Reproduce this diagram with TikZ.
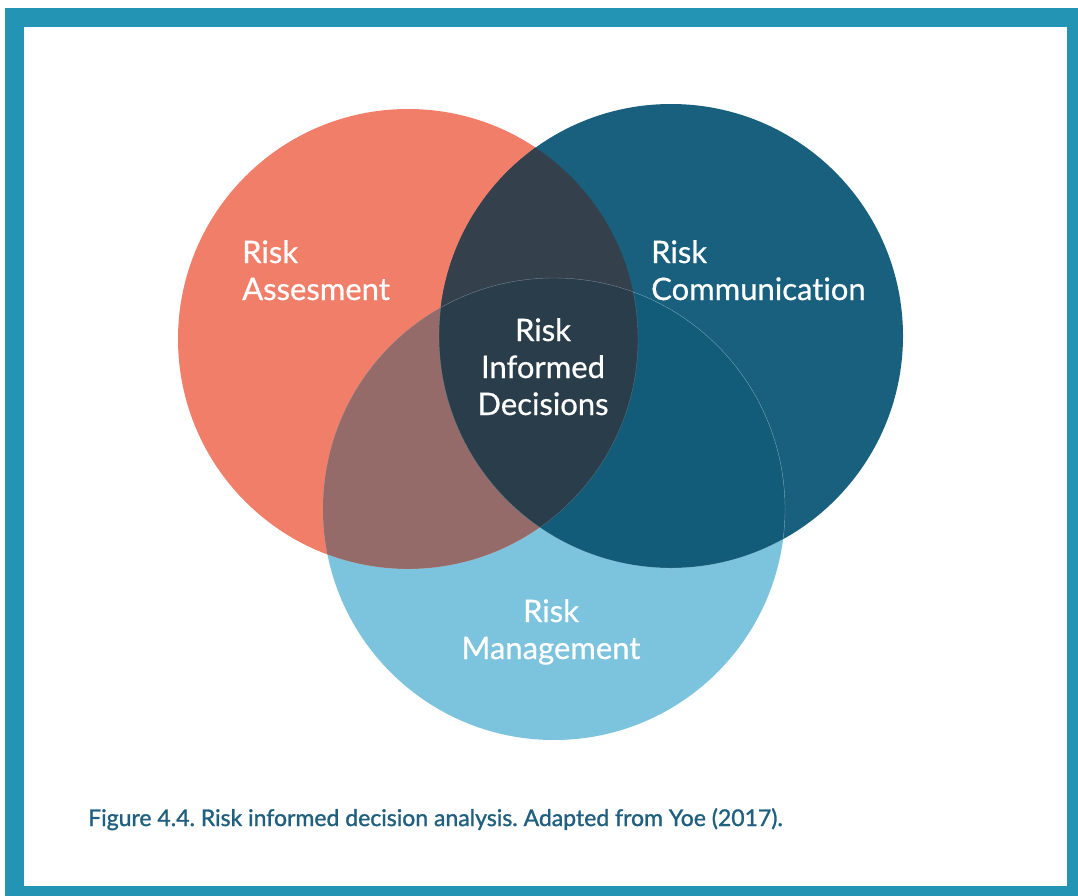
\documentclass[tikz,border=0pt]{standalone}
\usepackage{fontspec}
\setmainfont[Ligatures=NoCommon]{Lato}
\newfontfamily\capfont[Ligatures=NoCommon,FakeBold=1.2]{Lato}
\newfontfamily\lblfont[Ligatures=NoCommon,FakeBold=0.6]{Lato}
\definecolor{framec}{HTML}{2394B4}
\definecolor{orangec}{HTML}{F17E69}
\definecolor{darkc}{HTML}{18607E}
\definecolor{lightc}{HTML}{7CC3DD}
\definecolor{abc}{HTML}{35404D}
\definecolor{acc}{HTML}{956B69}
\definecolor{bcc}{HTML}{125C7A}
\definecolor{allc}{HTML}{2A3D4A}
\definecolor{capc}{HTML}{1F5F7F}
\frenchspacing
\begin{document}
\begin{tikzpicture}[x=1pt,y=-1pt,
  lbl/.style={text=white,font=\lblfont\fontsize{31}{37}\selectfont,inner sep=0pt},
  lblL/.style={lbl,align=left,anchor=base west},
  lblC/.style={lbl,align=center,anchor=base},
  capt/.style={text=capc,font=\capfont\fontsize{23}{28}\selectfont\frenchspacing,inner sep=0pt,anchor=base west}]
\useasboundingbox (0,0) rectangle (1078,896);
\fill[framec] (5,8) rectangle (1078,896);
\fill[white] (24,27) rectangle (1067,886);
\coordinate (A) at (408,339);
\coordinate (B) at (671,336);
\coordinate (C) at (554,509);
\def\rA{230pt}\def\rB{232pt}\def\rC{231pt}
\fill[orangec] (A) circle[radius=\rA];
\fill[darkc] (B) circle[radius=\rB];
\fill[lightc] (C) circle[radius=\rC];
\begin{scope}
  \clip (A) circle[radius=\rA];
  \fill[abc] (B) circle[radius=\rB];
  \fill[acc] (C) circle[radius=\rC];
\end{scope}
\begin{scope}
  \clip (B) circle[radius=\rB];
  \fill[bcc] (C) circle[radius=\rC];
  \clip (A) circle[radius=\rA];
  \fill[allc] (C) circle[radius=\rC];
\end{scope}
\begin{scope}
  \clip (B) circle[radius=\rB];
  \draw[white,opacity=0.3,line width=0.4pt] (C) circle[radius=\rC];
\end{scope}
\begin{scope}
  \clip (C) circle[radius=\rC];
  \draw[white,opacity=0.25,line width=0.4pt] (B) circle[radius=\rB];
  \draw[white,opacity=0.2,line width=0.4pt] (A) circle[radius=\rA];
\end{scope}
\node[lblL] (ta) at (242,300) {Risk\\Assesment};
\node[lblL] (tb) at (651,300) {Risk\\Communication};
\node[lblC] (tc) at (543,415) {Risk\\Informed\\Decisions};
\node[lblC] (td) at (551,659) {Risk\\Management};
\node[capt] (cap) at (88,826) {Figure 4.4. Risk informed decision analysis. Adapted from Yoe (2017).};
\end{tikzpicture}
\end{document}
